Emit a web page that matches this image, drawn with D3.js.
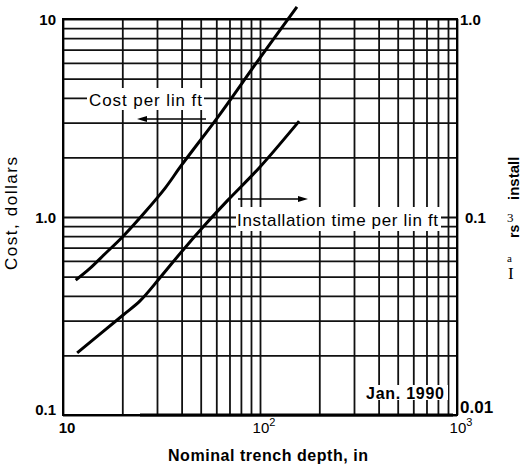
<!DOCTYPE html>
<html>
<head>
<meta charset="utf-8">
<script src="https://cdn.jsdelivr.net/npm/d3@7"></script>
<style>
  body { margin: 0; background: #fff; }
</style>
</head>
<body>
<div id="chart-area"></div>
<script>
// trench depth (in) ticks and the two curves
var depthTicks = [10, 100, 1000];
var depthExp = ["", "2", "3"];
var costTicks = [0.1, 1, 10];
var costTickLabels = ["0.1", "1.0", "10"];
var hourTicks = [0.01, 0.1, 1];
var hourTickLabels = ["0.01", "0.1", "1.0"];

var costDepth = [11.6, 13.7, 16.3, 20.2, 26.1, 33, 39.7, 62.7, 100, 154];
var costDollars = [0.48, 0.55, 0.65, 0.80, 1.06, 1.40, 1.81, 3.31, 6.37, 11.5];

var timeDepth = [11.8, 20.2, 24.6, 31, 40.6, 51.4, 68.9, 100, 158];
var timeHours = [0.0206, 0.032, 0.0377, 0.0492, 0.068, 0.089, 0.122, 0.179, 0.305];

var SANS = '"Liberation Sans", Arial, Helvetica, sans-serif';
var SERIF = '"Liberation Serif", "Times New Roman", serif';

var margin = { left: 63, right: 65, top: 19, bottom: 52 };
var width = 522 - margin.left - margin.right,
    height = 467 - margin.top - margin.bottom;

var svg = d3.select("#chart-area")
    .append('svg')
    .attr('width', 522)
    .attr('height', 467)
    .style('font-family', SANS);

var g = svg.append('g')
    .attr("transform", "translate(" + margin.left + ", " + margin.top + ")");

var x = d3.scaleLog().domain([10, 1000]).range([0, width]);
var yCost = d3.scaleLog().domain([0.1, 10]).range([height, 0]);
var yHours = d3.scaleLog().domain([0.01, 1]).range([height, 0]);

// log grid (1..9 per decade)
var xGrid = g.append('g')
    .attr('transform', 'translate(0,' + height + ')')
    .call(d3.axisBottom(x).tickValues(x.ticks()).tickSize(-height).tickFormat(''));
var yGrid = g.append('g')
    .call(d3.axisLeft(yCost).tickValues(yCost.ticks()).tickSize(-width).tickFormat(''));
[xGrid, yGrid].forEach(function(a) {
    a.select('.domain').remove();
    a.selectAll('line').attr('stroke', '#111').attr('stroke-width', 1.8);
});

// frame
g.append('rect')
    .attr('width', width).attr('height', height)
    .attr('fill', 'none').attr('stroke', '#000').attr('stroke-width', 2);
g.append('line')
    .attr('x1', 77).attr('x2', width - 4)
    .attr('y1', height).attr('y2', height)
    .attr('stroke', '#000').attr('stroke-width', 3);

// white boxes behind the labels
function blank(x0, y0, w, h) {
    svg.append('rect').attr('x', x0).attr('y', y0).attr('width', w).attr('height', h).attr('fill', '#fff');
}
blank(87, 88, 117, 22);
blank(236, 207, 205, 24);
blank(362, 385, 86, 15);

svg.append('text')
    .attr('x', 89).attr('y', 106)
    .attr('font-size', '17px')
    .attr('textLength', 113)
    .text('Cost per lin ft');

svg.append('text')
    .attr('x', 237).attr('y', 226)
    .attr('font-size', '17px')
    .attr('textLength', 201)
    .text('Installation time per lin ft');

svg.append('text')
    .attr('x', 366).attr('y', 399)
    .attr('font-size', '16px')
    .attr('font-weight', 'bold')
    .attr('textLength', 78)
    .text('Jan.  1990');

// arrows
function arrow(x0, x1, yy) {
    var dir = x1 > x0 ? 1 : -1;
    svg.append('line')
        .attr('x1', x0).attr('x2', x1 - dir * 6)
        .attr('y1', yy).attr('y2', yy)
        .attr('stroke', '#000').attr('stroke-width', 1.6);
    svg.append('path')
        .attr('d', 'M' + x1 + ',' + yy + 'L' + (x1 - dir * 10) + ',' + (yy - 3) + 'L' + (x1 - dir * 10) + ',' + (yy + 3) + 'Z')
        .attr('fill', '#000');
}
arrow(206, 137, 119);
arrow(238, 308, 199);

// curves
var costData = costDepth.map(function(d, i) { return [d, costDollars[i]]; });
var timeData = timeDepth.map(function(d, i) { return [d, timeHours[i]]; });

g.append('path')
    .datum(costData)
    .attr('fill', 'none').attr('stroke', '#000').attr('stroke-width', 3)
    .attr('d', d3.line()
        .x(function(d) { return x(d[0]); })
        .y(function(d) { return yCost(d[1]); })
        .curve(d3.curveCatmullRom.alpha(0.5)));

g.append('path')
    .datum(timeData)
    .attr('fill', 'none').attr('stroke', '#000').attr('stroke-width', 3)
    .attr('d', d3.line()
        .x(function(d) { return x(d[0]); })
        .y(function(d) { return yHours(d[1]); })
        .curve(d3.curveCatmullRom.alpha(0.5)));

// left ticks
g.selectAll('.cost-label')
    .data(costTicks)
    .enter().append('text')
    .attr('class', 'cost-label')
    .attr('x', -7)
    .attr('y', function(d, i) { return yCost(d) + (i === 0 ? 0 : 6); })
    .attr('text-anchor', 'end')
    .attr('font-size', '15px')
    .attr('font-weight', 'bold')
    .text(function(d, i) { return costTickLabels[i]; });

// right ticks
g.selectAll('.hour-label')
    .data(hourTicks)
    .enter().append('text')
    .attr('class', 'hour-label')
    .attr('x', function(d, i) { return width + (i === 1 ? 8 : 3); })
    .attr('y', function(d, i) { return yHours(d) + (i === 0 ? -2 : 6); })
    .attr('font-size', function(d, i) { return i === 0 ? '17px' : '15px'; })
    .attr('font-weight', 'bold')
    .text(function(d, i) { return hourTickLabels[i]; });

// bottom ticks with exponents
var xl = g.selectAll('.depth-label')
    .data(depthTicks)
    .enter().append('text')
    .attr('class', 'depth-label')
    .attr('x', function(d) { return x(d) + 4; })
    .attr('y', height + 18)
    .attr('text-anchor', 'middle')
    .attr('font-size', '15px')
    .attr('font-weight', function(d, i) { return i === 0 ? 'bold' : 'normal'; });
xl.append('tspan').text('10');
xl.append('tspan')
    .attr('dy', -7)
    .attr('font-size', '11px')
    .text(function(d, i) { return depthExp[i]; });

// axis titles
svg.append('text')
    .attr('x', 168).attr('y', 461)
    .attr('font-size', '16px')
    .attr('font-weight', 'bold')
    .attr('textLength', 200)
    .text('Nominal trench depth, in');

svg.append('text')
    .attr('transform', 'translate(17,270) rotate(-90)')
    .attr('font-size', '17px')
    .attr('textLength', 113)
    .text('Cost, dollars');

// right title, as it survives in the scan
svg.append('text')
    .attr('transform', 'translate(519,200) rotate(-90)')
    .attr('font-size', '15px')
    .attr('font-weight', 'bold')
    .text('install');
svg.append('text')
    .attr('transform', 'translate(519,238) rotate(-90)')
    .attr('font-size', '14px')
    .attr('font-weight', 'bold')
    .text('rs');
svg.append('text')
    .attr('x', 507).attr('y', 222)
    .style('font-family', SERIF)
    .attr('font-size', '13px')
    .text('3');
svg.append('text')
    .attr('x', 507).attr('y', 262)
    .style('font-family', SERIF)
    .attr('font-size', '11px')
    .text('a');
svg.append('text')
    .attr('x', 508).attr('y', 279)
    .style('font-family', SERIF)
    .attr('font-size', '17px')
    .text('I');
</script>
</body>
</html>
